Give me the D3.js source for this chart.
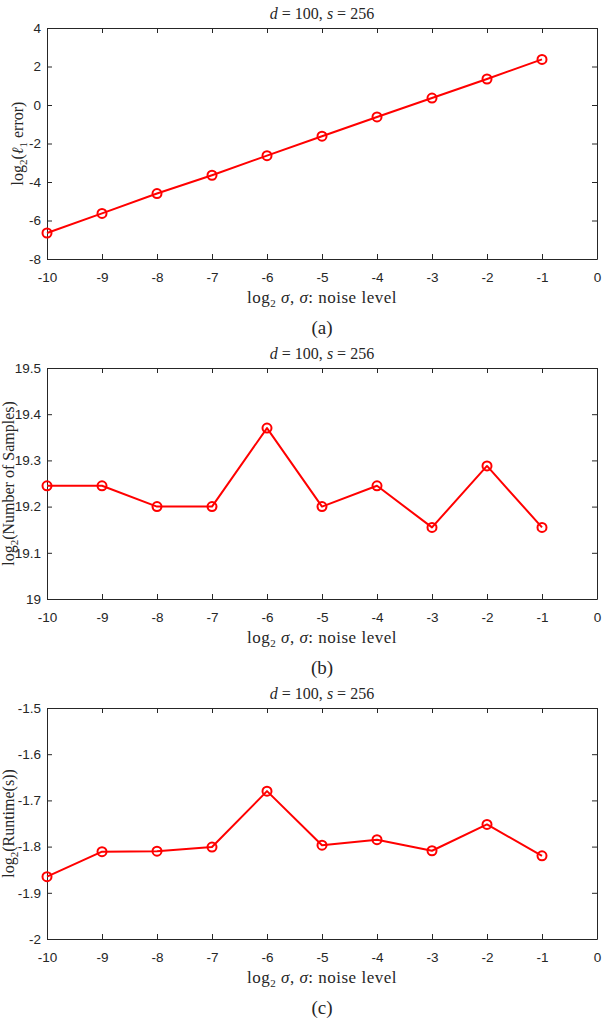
<!DOCTYPE html>
<html>
<head>
<meta charset="utf-8">
<script src="https://cdn.jsdelivr.net/npm/d3@7"></script>
<style>
  body { margin: 0; background: #fff; }
  .tick text { font-family: "Liberation Sans", Arial, sans-serif; font-size: 13.5px; fill: #262626; }
  .lbl { font-family: "Liberation Serif", "DejaVu Serif", serif; font-size: 17px; fill: #262626; }
</style>
</head>
<body>
<div id="my_datavis"></div>
<script>
// noise level (log2 sigma)
var noiseLevels = [-10, -9, -8, -7, -6, -5, -4, -3, -2, -1];
var l1Error = [-6.65, -5.63, -4.6, -3.65, -2.63, -1.62, -0.62, 0.36, 1.35, 2.37];
var numSamples = [19.245, 19.245, 19.2, 19.2, 19.37, 19.2, 19.245, 19.155, 19.288, 19.155];
var runtime = [-1.865, -1.811, -1.81, -1.801, -1.68, -1.797, -1.785, -1.809, -1.752, -1.82];

var xTicks = [-10, -9, -8, -7, -6, -5, -4, -3, -2, -1, 0];
var yTicksA = [-8, -6, -4, -2, 0, 2, 4];
var yTicksB = [19, 19.1, 19.2, 19.3, 19.4, 19.5];
var yTicksC = [-2, -1.9, -1.8, -1.7, -1.6, -1.5];

var panels = [
  { values: l1Error, ticks: yTicksA, ylabel: ["log", "2", "(", "ℓ", "1", " error)"], caption: "(a)" },
  { values: numSamples, ticks: yTicksB, ylabel: ["log", "2", "(Number of Samples)"], caption: "(b)" },
  { values: runtime, ticks: yTicksC, ylabel: ["log", "2", "(Runtime(s))"], caption: "(c)" }
];

var W = 607, H = 1024;
var left = 47, right = 597, plotH = 231, top0 = 28, step = 340;
var axisColor = "#262626";

var svg = d3.select("#my_datavis")
  .append("svg")
  .attr("width", W)
  .attr("height", H);

svg.append("rect").attr("width", W).attr("height", H).attr("fill", "#fff");

var x = d3.scaleLinear().domain([-10, 0]).range([left, right]);
var fmt = function(d) { return String(+d.toFixed(1)); };

panels.forEach(function(p, i) {
  var top = top0 + i * step, bottom = top + plotH;
  var y = d3.scaleLinear()
    .domain([p.ticks[0], p.ticks[p.ticks.length - 1]])
    .range([bottom, top]);

  var g = svg.append("g");

  // box + inward ticks
  var axes = [
    g.append("g").attr("transform", "translate(0," + bottom + ")")
      .call(d3.axisBottom(x).tickValues(xTicks).tickFormat(fmt).tickSizeInner(-5).tickSizeOuter(0).tickPadding(13)),
    g.append("g").attr("transform", "translate(0," + top + ")")
      .call(d3.axisTop(x).tickValues(xTicks).tickFormat("").tickSizeInner(-5).tickSizeOuter(0)),
    g.append("g").attr("transform", "translate(" + left + ",0)")
      .call(d3.axisLeft(y).tickValues(p.ticks).tickFormat(fmt).tickSizeInner(-5).tickSizeOuter(0).tickPadding(6)),
    g.append("g").attr("transform", "translate(" + right + ",0)")
      .call(d3.axisRight(y).tickValues(p.ticks).tickFormat("").tickSizeInner(-5).tickSizeOuter(0))
  ];
  axes.forEach(function(a) {
    a.select(".domain").attr("stroke", axisColor).attr("stroke-width", 1);
    a.selectAll(".tick line").attr("stroke", axisColor);
  });

  // line + markers
  var pts = noiseLevels.map(function(v, k) { return [v, p.values[k]]; });
  g.append("path")
    .datum(pts)
    .attr("fill", "none")
    .attr("stroke", "#ff0000")
    .attr("stroke-width", 2)
    .attr("stroke-linejoin", "round")
    .attr("d", d3.line().x(function(d) { return x(d[0]); }).y(function(d) { return y(d[1]); }));
  g.selectAll("circle.m")
    .data(pts)
    .enter().append("circle")
    .attr("class", "m")
    .attr("cx", function(d) { return x(d[0]); })
    .attr("cy", function(d) { return y(d[1]); })
    .attr("r", 4.5)
    .attr("fill", "none")
    .attr("stroke", "#ff0000")
    .attr("stroke-width", 2);

  // title
  var title = g.append("text").attr("class", "lbl")
    .attr("x", (left + right) / 2).attr("y", top - 9).attr("text-anchor", "middle")
    .style("font-size", "16px");
  title.append("tspan").attr("font-style", "italic").text("d");
  title.append("tspan").text(" = 100, ");
  title.append("tspan").attr("font-style", "italic").text("s");
  title.append("tspan").text(" = 256");

  // x label
  var xl = g.append("text").attr("class", "lbl")
    .attr("x", (left + right) / 2).attr("y", bottom + 44).attr("text-anchor", "middle")
    .style("letter-spacing", "0.5px");
  xl.append("tspan").text("log");
  xl.append("tspan").attr("font-size", "11px").attr("dy", 4).text("2");
  xl.append("tspan").attr("dy", -4).attr("font-style", "italic").text(" σ");
  xl.append("tspan").text(", ");
  xl.append("tspan").attr("font-style", "italic").text("σ");
  xl.append("tspan").text(":  noise level");

  // y label, placed left of the widest tick label
  var tickLeft = d3.min(axes[2].selectAll("text").nodes(), function(n) { return n.getBBox().x; });
  var yx = Math.max(left + tickLeft - 12, 8);
  var yl = g.append("text").attr("class", "lbl")
    .attr("transform", "translate(" + yx + "," + ((top + bottom) / 2) + ") rotate(-90)")
    .attr("text-anchor", "middle")
    .attr("dy", "0.35em")
    .style("font-size", "16px");
  p.ylabel.forEach(function(t, k) {
    var ts = yl.append("tspan").text(t);
    if (t === "2" || t === "1") ts.attr("font-size", "11px").attr("dy", 4);
    else if (k > 0 && (p.ylabel[k - 1] === "2" || p.ylabel[k - 1] === "1")) ts.attr("dy", -4);
    if (t === "ℓ") ts.attr("font-style", "italic");
  });

  // caption
  g.append("text").attr("class", "lbl")
    .attr("x", 322).attr("y", bottom + 75).attr("text-anchor", "middle")
    .style("font-size", "19px")
    .text(p.caption);
});
</script>
</body>
</html>
